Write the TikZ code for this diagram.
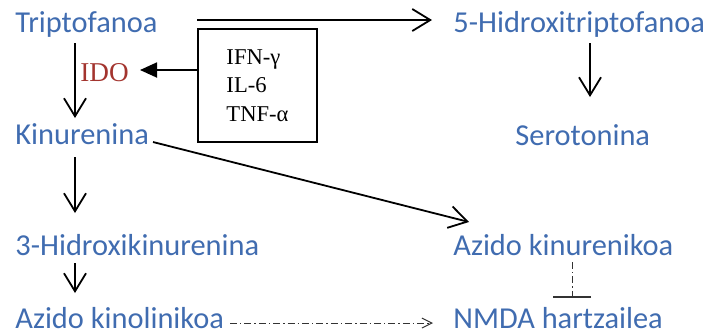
\documentclass[tikz,border=0pt]{standalone}
\usepackage{fontspec}
\setmainfont{Liberation Serif}
\newfontfamily\bluefont{Carlito}
\usepackage{tikz}
\usetikzlibrary{arrows.meta}
\definecolor{metblue}{RGB}{64,108,176}
\definecolor{idored}{RGB}{163,52,46}
\tikzstyle{metabolite}=[inner sep=0, anchor=base west, text=metblue, font=\bluefont\fontsize{15.2}{18}\selectfont, text height=10pt, text depth=3pt]
\tikzstyle{enzyme}=[inner sep=0, anchor=base west, text=idored, font=\fontsize{13.6}{16}\selectfont]
\tikzstyle{cytokine}=[draw, line width=1pt, align=left, minimum width=59.5pt, minimum height=56.5pt, font=\fontsize{11.3}{14.25}\selectfont]
\tikzstyle{arrow}=[draw=black, line width=0.9pt, -{Straight Barb[length=9pt,width=11pt]}]
\tikzstyle{block}=[draw=black, line width=0.9pt, -{Triangle[length=8.5pt,width=7.5pt]}]
\tikzstyle{dashdot}=[draw=black!80, line width=0.5pt, dash pattern=on 3.5pt off 1.5pt on 0.7pt off 1.5pt]

\begin{document}
\begin{tikzpicture}[x=0.5pt, y=-0.5pt]
		   \useasboundingbox (0,0) rectangle (710,334);
		   \begin{scope}
			   \node (0) at (15, 32)[metabolite] {Triptofanoa};
			   \node (1) at (15, 144)[metabolite] {Kinurenina};
			   \node (2) at (15, 255)[metabolite] {3-Hidroxikinurenina};
			   \node (3) at (15, 328)[metabolite] {Azido kinolinikoa};
			   \node (4) at (453, 32)[metabolite] {5-Hidroxitriptofanoa};
			   \node (5) at (515, 145)[metabolite] {Serotonina};
			   \node (6) at (453, 255)[metabolite] {Azido kinurenikoa};
			   \node (7) at (453, 328)[metabolite] {NMDA hartzailea};
			   \node (8) at (80, 81)[enzyme] {IDO};
			   \node (9) at (257.5, 85.5)[cytokine] {IFN-γ\\IL-6\\TNF-α};
		   \end{scope}
		   \begin{scope}
			   \draw [arrow] ([shift={(60,11)}]0.base west) -- ([shift={(60,-26)}]1.base west);
			   \draw [arrow] ([shift={(60,13)}]1.base west) -- ([shift={(60,-42)}]2.base west);
			   \draw [arrow] ([shift={(60,8)}]2.base west) -- ([shift={(60,-35)}]3.base west);
			   \draw [arrow] ([shift={(137,11)}]4.base west) -- ([shift={(75,-48)}]5.base west);
			   \draw [arrow] ([shift={(182,-12)}]0.base west) -- ([shift={(-21,-12)}]4.base west);
			   \draw [arrow] ([shift={(138,-2)}]1.base west) -- ([shift={(16,-33)}]6.base west);
			   \draw [block] ([shift={(0,-15.5)}]9.west) -- ([shift={(60,-11)}]8.base west);
			   \draw [dashdot, -{Straight Barb[length=5pt,width=5pt]}] ([shift={(215,-5)}]3.base west) -- ([shift={(-20,-5)}]7.base west);
			   \draw [dashdot, -{Bar[width=19pt,line width=0.9pt]}] ([shift={(119,7)}]6.base west) -- ([shift={(119,-30)}]7.base west);
		   \end{scope}
	   \end{tikzpicture}
\end{document}
